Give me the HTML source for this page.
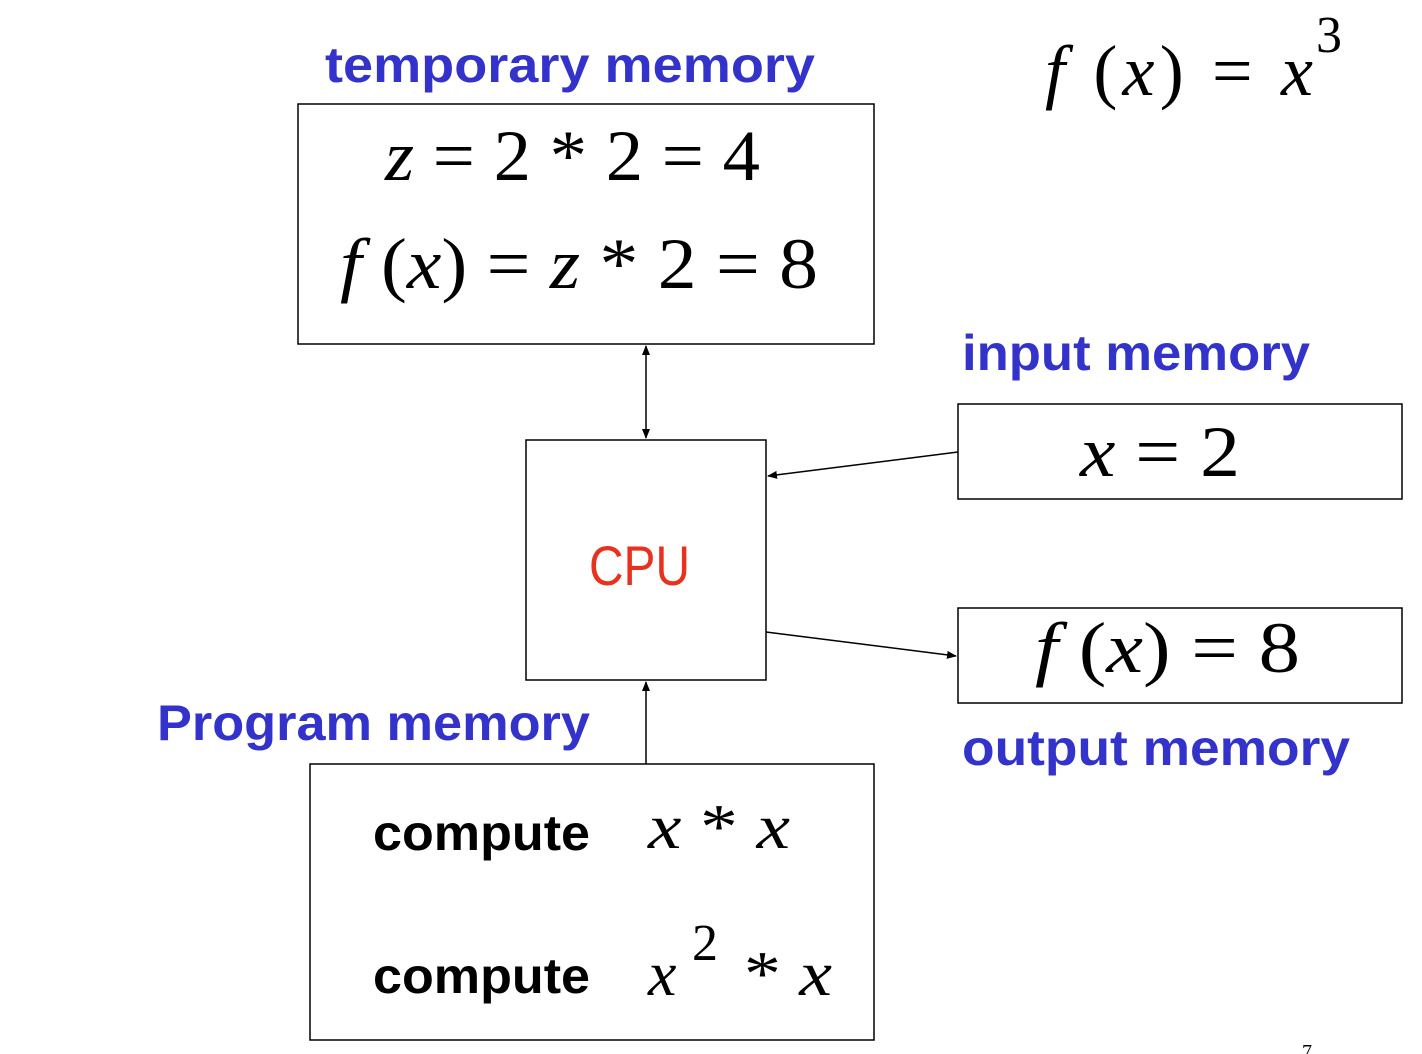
<!DOCTYPE html>
<html><head><meta charset="utf-8"><style>
html,body{margin:0;padding:0;background:#fff;}
svg{display:block;}
.lbl{font-family:"Liberation Sans",sans-serif;font-weight:bold;fill:#3333cc;}
.m{font-family:"Liberation Serif",serif;fill:#000;}
.i{font-style:italic;}
.c{font-family:"Liberation Sans",sans-serif;font-weight:bold;fill:#000;}
</style></head><body>
<svg width="1422" height="1054" viewBox="0 0 1422 1054" xmlns="http://www.w3.org/2000/svg">
<defs>
<marker id="a" markerWidth="10" markerHeight="8" refX="9" refY="4" orient="auto" markerUnits="userSpaceOnUse">
<path d="M0,0 L10,4 L0,8 z" fill="#000"/></marker>
<marker id="b" markerWidth="10" markerHeight="8" refX="1" refY="4" orient="auto" markerUnits="userSpaceOnUse">
<path d="M10,0 L0,4 L10,8 z" fill="#000"/></marker>
</defs>
<g fill="none" stroke="#000" stroke-width="1.5">
<rect x="298" y="104" width="576" height="240"/>
<rect x="526" y="440" width="240" height="240"/>
<rect x="958" y="404" width="444" height="95"/>
<rect x="958" y="608" width="444" height="95"/>
<rect x="310" y="764" width="564" height="276"/>
<line x1="646" y1="346" x2="646" y2="438" marker-start="url(#b)" marker-end="url(#a)"/>
<line x1="958" y1="452" x2="768" y2="476" marker-end="url(#a)"/>
<line x1="766" y1="632" x2="956" y2="656" marker-end="url(#a)"/>
<line x1="646" y1="764" x2="646" y2="682" marker-end="url(#a)"/>
</g>
<text class="lbl" x="325" y="82" font-size="50" textLength="490" lengthAdjust="spacingAndGlyphs">temporary memory</text>
<text class="lbl" x="962" y="370" font-size="50" textLength="348" lengthAdjust="spacingAndGlyphs">input memory</text>
<text class="lbl" x="962" y="765" font-size="50" textLength="388" lengthAdjust="spacingAndGlyphs">output memory</text>
<text class="lbl" x="157" y="740" font-size="50" textLength="433" lengthAdjust="spacingAndGlyphs">Program memory</text>
<text x="589" y="585" font-family="Liberation Sans,sans-serif" font-size="56" fill="#e8321e" textLength="101" lengthAdjust="spacingAndGlyphs">CPU</text>
<text class="m" x="1045" y="95" font-size="72" textLength="268" lengthAdjust="spacing"><tspan class="i">f</tspan> (<tspan class="i">x</tspan>) = <tspan class="i">x</tspan></text>
<text class="m" x="1316" y="52" font-size="52">3</text>
<text class="m" x="385" y="180" font-size="72" textLength="375" lengthAdjust="spacingAndGlyphs"><tspan class="i">z</tspan> = 2 * 2 = 4</text>
<text class="m" x="340" y="288" font-size="72" textLength="478" lengthAdjust="spacingAndGlyphs"><tspan class="i">f</tspan> (<tspan class="i">x</tspan>) = <tspan class="i">z</tspan> * 2 = 8</text>
<text class="m" x="1080" y="476" font-size="72" textLength="160" lengthAdjust="spacingAndGlyphs"><tspan class="i">x</tspan> = 2</text>
<text class="m" x="1035" y="672" font-size="72" textLength="265" lengthAdjust="spacingAndGlyphs"><tspan class="i">f</tspan> (<tspan class="i">x</tspan>) = 8</text>
<text class="c" x="373" y="850" font-size="50" textLength="217" lengthAdjust="spacingAndGlyphs">compute</text>
<text class="c" x="373" y="993" font-size="50" textLength="217" lengthAdjust="spacingAndGlyphs">compute</text>
<text class="m" x="648" y="848" font-size="64" textLength="142" lengthAdjust="spacingAndGlyphs"><tspan class="i">x</tspan> * <tspan class="i">x</tspan></text>
<text class="m i" x="648" y="995" font-size="64">x</text>
<text class="m" x="692" y="960" font-size="52">2</text>
<text class="m" x="744" y="995" font-size="64" textLength="88" lengthAdjust="spacingAndGlyphs">* <tspan class="i">x</tspan></text>
<text class="m" x="1302" y="1058" font-size="20">7</text>
</svg>
</body></html>
